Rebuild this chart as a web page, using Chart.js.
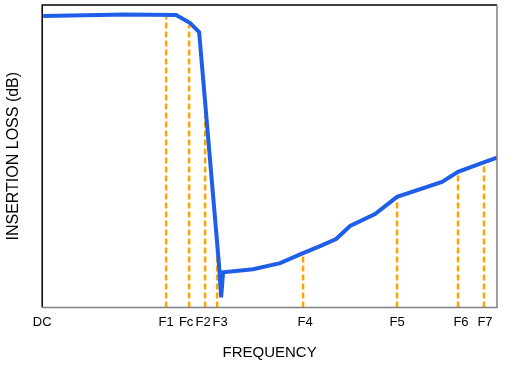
<!DOCTYPE html>
<html>
<head>
<meta charset="utf-8">
<script src="https://cdn.jsdelivr.net/npm/chart.js@4"></script>
<style>
  html, body { margin: 0; padding: 0; background: #fff; }
  #wrap { width: 513px; height: 366px; }
</style>
</head>
<body>
<div id="wrap"><canvas id="lossChart"></canvas></div>
<script>
// Filter response curve (frequency units, loss units)
const curveFreq = [1, 83, 134, 148, 157, 177, 179, 181, 211, 238, 261, 278, 294, 308, 333, 355, 400, 416, 441, 455];
const curveLoss = [290, 291.5, 291, 283, 274, 41, 10, 35, 38, 44, 54, 61, 68, 81, 93, 110, 125, 135, 144, 149];

// Marker frequencies (orange dashed lines) and where they meet the curve
const markerFreq = [124, 147, 163, 175, 261, 355, 416, 442];
const markerTop = [289, 281, 196, 76, 53, 108, 134, 143];

// Tick labels along the frequency axis
const tickFreq = [0, 124, 144, 161, 178, 263, 355, 419, 443];
const tickLabels = ["DC", "F1", "Fc", "F2", "F3", "F4", "F5", "F6", "F7"];

const FONT = "'Liberation Sans', Arial, sans-serif";

// One dataset per dashed marker line
const markerSets = markerFreq.map((f, i) => ({
  data: [{ x: f, y: 0 }, { x: f, y: markerTop[i] }],
  borderColor: "#ffa500",
  borderWidth: 2.5,
  borderDash: [6, 3],
  pointRadius: 0,
  order: 2,
}));

// Draws the frame around the plot area
const frame = {
  id: "frame",
  afterDraw(chart) {
    const { ctx, chartArea: a } = chart;
    ctx.save();
    ctx.lineWidth = 1.5;
    ctx.strokeStyle = "#000";
    ctx.beginPath();
    ctx.moveTo(a.left, a.bottom);
    ctx.lineTo(a.left, a.top);
    ctx.lineTo(a.right, a.top);
    ctx.stroke();
    ctx.strokeStyle = "#7f7f7f";
    ctx.beginPath();
    ctx.moveTo(a.right, a.top);
    ctx.lineTo(a.right, a.bottom);
    ctx.lineTo(a.left, a.bottom);
    ctx.stroke();
    ctx.restore();
  },
};

new Chart(document.getElementById("lossChart"), {
  type: "line",
  data: {
    datasets: [
      {
        data: curveFreq.map((f, i) => ({ x: f, y: curveLoss[i] })),
        borderColor: "#1f5ee8",
        borderWidth: 4,
        pointRadius: 0,
        tension: 0,
        borderJoinStyle: "miter",
        order: 1,
      },
      ...markerSets,
    ],
  },
  options: {
    responsive: true,
    maintainAspectRatio: false,
    animation: false,
    layout: { padding: { top: 5, right: 16, left: 0, bottom: 0 } },
    plugins: { legend: { display: false }, tooltip: { enabled: false } },
    scales: {
      x: {
        type: "linear",
        min: 0,
        max: 455,
        border: { display: false },
        grid: { display: false, drawTicks: false },
        afterBuildTicks: (scale) => {
          scale.ticks = tickFreq.map((v) => ({ value: v }));
        },
        ticks: {
          autoSkip: false,
          maxRotation: 0,
          padding: 7,
          color: "#000",
          font: { family: FONT, size: 13 },
          callback: (v, i) => tickLabels[i],
        },
        title: {
          display: true,
          text: "FREQUENCY",
          color: "#000",
          font: { family: FONT, size: 15 },
          padding: { top: 7, bottom: 4 },
        },
      },
      y: {
        min: 0,
        max: 301,
        border: { display: false },
        grid: { display: false, drawTicks: false },
        ticks: { display: false },
        title: {
          display: true,
          text: "INSERTION LOSS (dB)",
          color: "#000",
          font: { family: FONT, size: 16 },
          padding: { top: 4, bottom: 19 },
        },
      },
    },
  },
  plugins: [frame],
});
</script>
</body>
</html>
